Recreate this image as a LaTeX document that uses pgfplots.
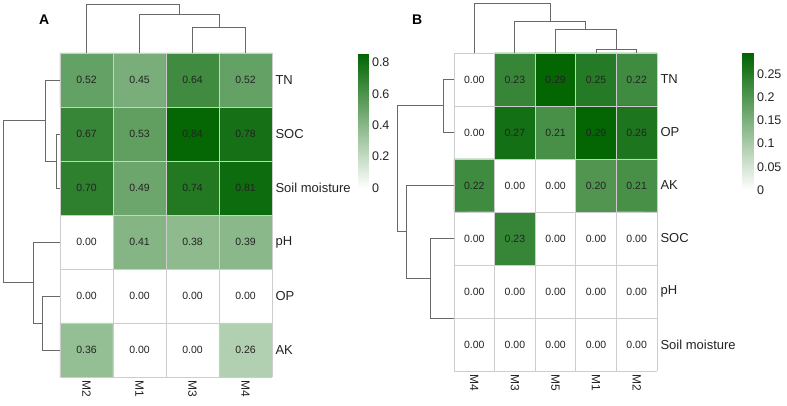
\documentclass[border=0pt]{standalone}
\usepackage{fontspec}
\setmainfont{Liberation Sans}
\usepackage{pgfplots}
\pgfplotsset{compat=1.18}
\usepackage{pgfplotstable}

\definecolor{dendro}{RGB}{105,105,105}
\definecolor{gridc}{RGB}{205,205,205}
\definecolor{txt}{RGB}{35,35,35}

% Panel A: rows TN, SOC, Soil moisture, pH, OP, AK ; cols M2, M1, M3, M4
\pgfplotstableread{
x y v
0 0 0.52
1 0 0.45
2 0 0.64
3 0 0.52
0 1 0.67
1 1 0.53
2 1 0.84
3 1 0.78
0 2 0.70
1 2 0.49
2 2 0.74
3 2 0.81
0 3 0.00
1 3 0.41
2 3 0.38
3 3 0.39
0 4 0.00
1 4 0.00
2 4 0.00
3 4 0.00
0 5 0.36
1 5 0.00
2 5 0.00
3 5 0.26
}\tableA

% Panel B: rows TN, OP, AK, SOC, pH, Soil moisture ; cols M4, M3, M5, M1, M2
\pgfplotstableread{
x y v
0 0 0.00
1 0 0.23
2 0 0.29
3 0 0.25
4 0 0.22
0 1 0.00
1 1 0.27
2 1 0.21
3 1 0.29
4 1 0.26
0 2 0.22
1 2 0.00
2 2 0.00
3 2 0.20
4 2 0.21
0 3 0.00
1 3 0.23
2 3 0.00
3 3 0.00
4 3 0.00
0 4 0.00
1 4 0.00
2 4 0.00
3 4 0.00
4 4 0.00
0 5 0.00
1 5 0.00
2 5 0.00
3 5 0.00
4 5 0.00
}\tableB

\pgfplotsset{
  /pgf/number format/assume math mode=true,
  hm/.style={
    y dir=reverse, clip=false, axis on top,
    axis line style={draw=none}, tick style={draw=none},
    major tick length=0pt, minor tick length=0pt,
    grid=minor, minor grid style={gridc, line width=0.9pt},
    yticklabel pos=right,
    xticklabel style={rotate=-90, anchor=west, font=\fontsize{12}{14}\selectfont, text=txt},
    yticklabel style={font=\fontsize{13}{15}\selectfont, text=txt},
    colormap={wg}{rgb255=(255,255,255) rgb255=(0,100,0)},
    colorbar,
  },
  dl/.style={dendro, line width=1pt, mark=none},
  vals/.style={only marks, mark=none, point meta=explicit,
    nodes near coords={\pgfmathprintnumber[fixed,fixed zerofill,precision=2]{\pgfplotspointmeta}},
    every node near coord/.append style={font=\fontsize{10.5}{12}\selectfont, text=txt, anchor=center}},
}

\begin{document}
\begin{tikzpicture}
\useasboundingbox (0,0) rectangle (787pt,406pt);

% ---------------- Panel A ----------------
\begin{axis}[hm,
  at={(60pt,29pt)}, anchor=south west,
  x=53pt, y=54pt,
  xmin=-0.5, xmax=3.5, ymin=-0.5, ymax=5.5,
  xtick={0,1,2,3}, xticklabels={M2,M1,M3,M4},
  ytick={0,1,2,3,4,5}, yticklabels={TN,SOC,Soil moisture,pH,OP,AK},
  minor xtick={-0.5,0.5,1.5,2.5,3.5},
  minor ytick={-0.5,0.5,1.5,2.5,3.5,4.5,5.5},
  point meta min=0, point meta max=0.86,
  colorbar style={y dir=normal, at={(parent axis.north east)}, anchor=north west,
    xshift=78pt, width=10pt, height=135pt,
    axis line style={draw=none}, tick style={draw=none}, major tick length=0pt,
    ytick={0,0.2,0.4,0.6,0.8}, yticklabels={0,0.2,0.4,0.6,0.8},
    yticklabel style={font=\fontsize{12.5}{14}\selectfont, text=txt}},
]
\addplot[matrix plot*, mesh/cols=4, point meta=explicit] table[x=x,y=y,meta=v]{\tableA};
\addplot[vals] table[x=x,y=y,meta=v]{\tableA};
% top dendrogram
\addplot[dl] coordinates {(2,-0.5) (2,-0.963) (3,-0.963) (3,-0.5)};
\addplot[dl] coordinates {(1,-0.5) (1,-1.222) (2.5,-1.222) (2.5,-0.963)};
\addplot[dl] coordinates {(0,-0.5) (0,-1.407) (1.75,-1.407) (1.75,-1.222)};
% left dendrogram
\addplot[dl] coordinates {(-0.5,1) (-0.575,1) (-0.575,2) (-0.5,2)};
\addplot[dl] coordinates {(-0.5,0) (-0.77,0) (-0.77,1.5) (-0.575,1.5)};
\addplot[dl] coordinates {(-0.5,4) (-0.821,4) (-0.821,5) (-0.5,5)};
\addplot[dl] coordinates {(-0.5,3) (-1.009,3) (-1.009,4.5) (-0.821,4.5)};
\addplot[dl] coordinates {(-0.77,0.75) (-1.557,0.75) (-1.557,3.75) (-1.009,3.75)};
\node[font=\bfseries\fontsize{14}{16}\selectfont, text=black] at (axis cs:-0.80,-1.11) {A};
\end{axis}

% ---------------- Panel B ----------------
\begin{axis}[hm,
  at={(454pt,35pt)}, anchor=south west,
  x=40.6pt, y=53pt,
  xmin=-0.5, xmax=4.5, ymin=-0.5, ymax=5.5,
  xtick={0,1,2,3,4}, xticklabels={M4,M3,M5,M1,M2},
  ytick={0,1,2,3,4,5}, yticklabels={TN,OP,AK,SOC,pH,Soil moisture},
  minor xtick={-0.5,0.5,1.5,2.5,3.5,4.5},
  minor ytick={-0.5,0.5,1.5,2.5,3.5,4.5,5.5},
  point meta min=0, point meta max=0.295,
  colorbar style={y dir=normal, at={(parent axis.north east)}, anchor=north west,
    xshift=77pt, width=11pt, height=137pt,
    axis line style={draw=none}, tick style={draw=none}, major tick length=0pt,
    ytick={0,0.05,0.1,0.15,0.2,0.25}, yticklabels={0,0.05,0.1,0.15,0.2,0.25},
    yticklabel style={font=\fontsize{12.5}{14}\selectfont, text=txt}},
]
\addplot[matrix plot*, mesh/cols=5, point meta=explicit] table[x=x,y=y,meta=v]{\tableB};
\addplot[vals] table[x=x,y=y,meta=v]{\tableB};
% top dendrogram
\addplot[dl] coordinates {(3,-0.5) (3,-0.575) (4,-0.575) (4,-0.5)};
\addplot[dl] coordinates {(2,-0.5) (2,-0.934) (3.5,-0.934) (3.5,-0.575)};
\addplot[dl] coordinates {(1,-0.5) (1,-1.091) (2.75,-1.091) (2.75,-0.934)};
\addplot[dl] coordinates {(0,-0.5) (0,-1.425) (1.875,-1.425) (1.875,-1.091)};
% left dendrogram
\addplot[dl] coordinates {(-0.5,0) (-0.771,0) (-0.771,1) (-0.5,1)};
\addplot[dl] coordinates {(-0.5,3) (-1.091,3) (-1.091,4.5) (-0.5,4.5)};
\addplot[dl] coordinates {(-0.5,2) (-1.658,2) (-1.658,3.75) (-1.091,3.75)};
\addplot[dl] coordinates {(-0.771,0.5) (-1.904,0.5) (-1.904,2.875) (-1.658,2.875)};
\node[font=\bfseries\fontsize{14}{16}\selectfont, text=black] at (axis cs:-1.41,-1.12) {B};
\end{axis}
\end{tikzpicture}
\end{document}
